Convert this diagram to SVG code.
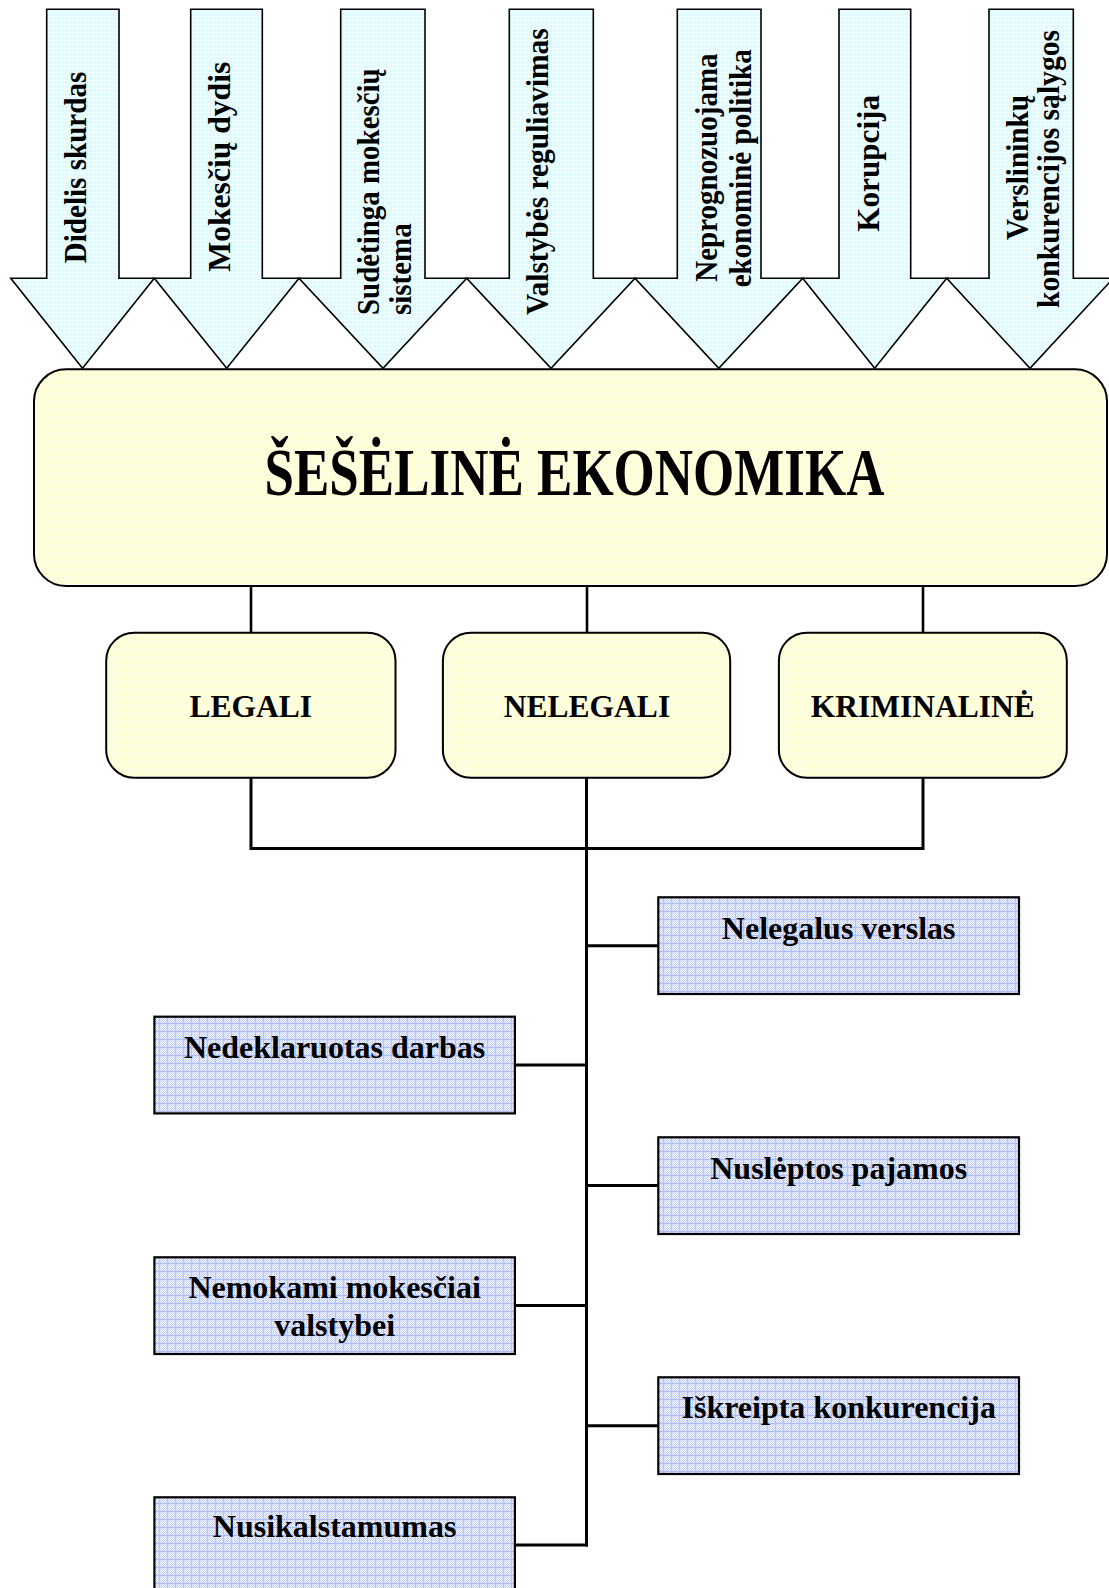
<svg xmlns="http://www.w3.org/2000/svg" width="1109" height="1588" viewBox="0 0 1109 1588">
<style>
  .t { font-family: "Liberation Serif", "Times New Roman", serif; font-weight: bold; fill: #000; }
  .arrow { fill: url(#cyanTex); stroke: #000; stroke-width: 1.6; stroke-linejoin: miter; }
  .main { fill: url(#yellowTex); stroke: #000; stroke-width: 2; }
  .sub { fill: url(#yellowTex); stroke: #000; stroke-width: 2; }
  .leaf { fill: url(#blueTex); stroke: #000; stroke-width: 2.2; }
  .conn { fill: none; stroke: #000; stroke-width: 2.6; }
  .conn2 { fill: none; stroke: #000; stroke-width: 3; }
</style>
<defs>
  <pattern id="yellowTex" width="4" height="4" patternUnits="userSpaceOnUse">
    <rect width="4" height="4" fill="#FFFFC4"/>
    <rect width="4" height="1" fill="#FFFFEC"/>
    <rect width="1" height="4" fill="#FFFFEC"/>
  </pattern>
  <pattern id="cyanTex" width="4" height="4" patternUnits="userSpaceOnUse">
    <rect width="4" height="4" fill="#DDFBFF"/>
    <rect width="4" height="1" fill="#F0FFFF"/>
    <rect width="1" height="4" fill="#EEFEFF"/>
  </pattern>
  <pattern id="checker" width="2" height="2" patternUnits="userSpaceOnUse">
    <rect width="2" height="2" fill="#F4F6FF"/>
    <rect width="1" height="1" fill="#C3CFF7"/>
    <rect x="1" y="1" width="1" height="1" fill="#C3CFF7"/>
  </pattern>
  <pattern id="blueTex" width="8" height="8" patternUnits="userSpaceOnUse">
    <rect width="8" height="8" fill="url(#checker)"/>
    <rect y="7" width="8" height="1" fill="#AEBEF2"/>
    <rect x="7" width="1" height="8" fill="#B4C3F3"/>
  </pattern>
</defs>
<rect width="1109" height="1588" fill="#FFFFFF"/>

<!-- Input arrows -->
<g id="arrow-didelis-skurdas">
  <polygon class="arrow" points="10.7,278.3 46.7,278.3 46.7,9.3 119,9.3 119,278.3 154.3,278.3 82.5,368.3"/>
  <text class="t" font-size="31" transform="translate(86,263.3) rotate(-90)" textLength="191.6" lengthAdjust="spacingAndGlyphs">Didelis skurdas</text>
</g>
<g id="arrow-mokesciu-dydis">
  <polygon class="arrow" points="154.3,278.3 190.7,278.3 190.7,9.3 262.3,9.3 262.3,278.3 299,278.3 226.7,368.3"/>
  <text class="t" font-size="31" transform="translate(229.8,271.7) rotate(-90)" textLength="210" lengthAdjust="spacingAndGlyphs">Mokesčių dydis</text>
</g>
<g id="arrow-sudetinga-sistema">
  <polygon class="arrow" points="299,278.3 340.7,278.3 340.7,9.3 425,9.3 425,278.3 466.7,278.3 383,368.3"/>
  <text class="t" font-size="31" transform="translate(379,315) rotate(-90)" textLength="246.7" lengthAdjust="spacingAndGlyphs">Sudėtinga mokesčių</text>
  <text class="t" font-size="31" transform="translate(411,315) rotate(-90)" textLength="91.7" lengthAdjust="spacingAndGlyphs">sistema</text>
</g>
<g id="arrow-valstybes-reguliavimas">
  <polygon class="arrow" points="466.7,278.3 509.3,278.3 509.3,9.3 593.3,9.3 593.3,278.3 635,278.3 551,368.3"/>
  <text class="t" font-size="31" transform="translate(547.5,315) rotate(-90)" textLength="286.7" lengthAdjust="spacingAndGlyphs">Valstybės reguliavimas</text>
</g>
<g id="arrow-neprognozuojama">
  <polygon class="arrow" points="635,278.3 677.3,278.3 677.3,9.3 761,9.3 761,278.3 802.7,278.3 718.8,368.3"/>
  <text class="t" font-size="31" transform="translate(716.5,281.7) rotate(-90)" textLength="228.3" lengthAdjust="spacingAndGlyphs">Neprognozuojama</text>
  <text class="t" font-size="31" transform="translate(750.7,287.3) rotate(-90)" textLength="238" lengthAdjust="spacingAndGlyphs">ekonominė politika</text>
</g>
<g id="arrow-korupcija">
  <polygon class="arrow" points="802.7,278.3 839,278.3 839,9.3 910.7,9.3 910.7,278.3 946.7,278.3 874.7,368.3"/>
  <text class="t" font-size="31" transform="translate(878.8,231.7) rotate(-90)" textLength="136.7" lengthAdjust="spacingAndGlyphs">Korupcija</text>
</g>
<g id="arrow-verslininku">
  <polygon class="arrow" points="946.7,278.3 989,278.3 989,9.3 1073.3,9.3 1073.3,278.3 1113.3,278.3 1030,368.3"/>
  <text class="t" font-size="31" transform="translate(1027.8,240) rotate(-90)" textLength="145" lengthAdjust="spacingAndGlyphs">Verslininkų</text>
  <text class="t" font-size="31" transform="translate(1059.3,308) rotate(-90)" textLength="278" lengthAdjust="spacingAndGlyphs">konkurencijos sąlygos</text>
</g>

<!-- Connectors -->
<g id="connectors">
  <line class="conn" x1="251" y1="586" x2="251" y2="633"/>
  <line class="conn" x1="587" y1="586" x2="587" y2="633"/>
  <line class="conn" x1="923" y1="586" x2="923" y2="633"/>
  <polyline class="conn2" points="251,778 251,848.5 923,848.5 923,778"/>
  <line class="conn2" x1="586.5" y1="778" x2="586.5" y2="1546.5"/>
  <line class="conn2" x1="586.5" y1="945.7" x2="658.3" y2="945.7"/>
  <line class="conn2" x1="586.5" y1="1185.5" x2="658.3" y2="1185.5"/>
  <line class="conn2" x1="586.5" y1="1425.7" x2="658.3" y2="1425.7"/>
  <line class="conn2" x1="514.9" y1="1065" x2="586.5" y2="1065"/>
  <line class="conn2" x1="514.9" y1="1305.5" x2="586.5" y2="1305.5"/>
  <line class="conn2" x1="514.9" y1="1545" x2="588" y2="1545"/>
</g>

<!-- Main node -->
<g id="node-seseline-ekonomika">
  <rect class="main" x="34" y="369.3" width="1073" height="216.7" rx="32" ry="32"/>
  <text class="t" font-size="67" x="574.5" y="495" text-anchor="middle" textLength="620" lengthAdjust="spacingAndGlyphs">ŠEŠĖLINĖ EKONOMIKA</text>
</g>

<!-- Category nodes -->
<g id="node-legali">
  <rect class="sub" x="106.2" y="632.7" width="289.3" height="145" rx="28" ry="28"/>
  <text class="t" font-size="31.5" x="250.8" y="716.7" text-anchor="middle">LEGALI</text>
</g>
<g id="node-nelegali">
  <rect class="sub" x="442.9" y="632.7" width="287.3" height="145" rx="28" ry="28"/>
  <text class="t" font-size="31.5" x="587" y="716.7" text-anchor="middle">NELEGALI</text>
</g>
<g id="node-kriminaline">
  <rect class="sub" x="778.9" y="632.7" width="287.9" height="145" rx="28" ry="28"/>
  <text class="t" font-size="31.5" x="922.8" y="716.7" text-anchor="middle">KRIMINALINĖ</text>
</g>

<!-- Consequence nodes -->
<g id="node-nelegalus-verslas">
  <rect class="leaf" x="658.3" y="897.3" width="360.7" height="96.7"/>
  <text class="t" font-size="32" x="838.7" y="939" text-anchor="middle">Nelegalus verslas</text>
</g>
<g id="node-nedeklaruotas-darbas">
  <rect class="leaf" x="154.4" y="1016.7" width="360.5" height="96.7"/>
  <text class="t" font-size="32" x="334.6" y="1058.3" text-anchor="middle">Nedeklaruotas darbas</text>
</g>
<g id="node-nusleptos-pajamos">
  <rect class="leaf" x="658.3" y="1137.3" width="360.7" height="96.7"/>
  <text class="t" font-size="32" x="838.7" y="1179.3" text-anchor="middle">Nuslėptos pajamos</text>
</g>
<g id="node-nemokami-mokesciai">
  <rect class="leaf" x="154.4" y="1257.3" width="360.5" height="96.7"/>
  <text class="t" font-size="32" x="334.6" y="1298.3" text-anchor="middle">Nemokami mokesčiai</text>
  <text class="t" font-size="32" x="334.6" y="1336" text-anchor="middle">valstybei</text>
</g>
<g id="node-iskreipta-konkurencija">
  <rect class="leaf" x="658.3" y="1377.3" width="360.7" height="96.7"/>
  <text class="t" font-size="32" x="838.7" y="1418.3" text-anchor="middle">Iškreipta konkurencija</text>
</g>
<g id="node-nusikalstamumas">
  <rect class="leaf" x="154.4" y="1497.3" width="360.5" height="96.7"/>
  <text class="t" font-size="32" x="334.6" y="1537.3" text-anchor="middle">Nusikalstamumas</text>
</g>
</svg>
